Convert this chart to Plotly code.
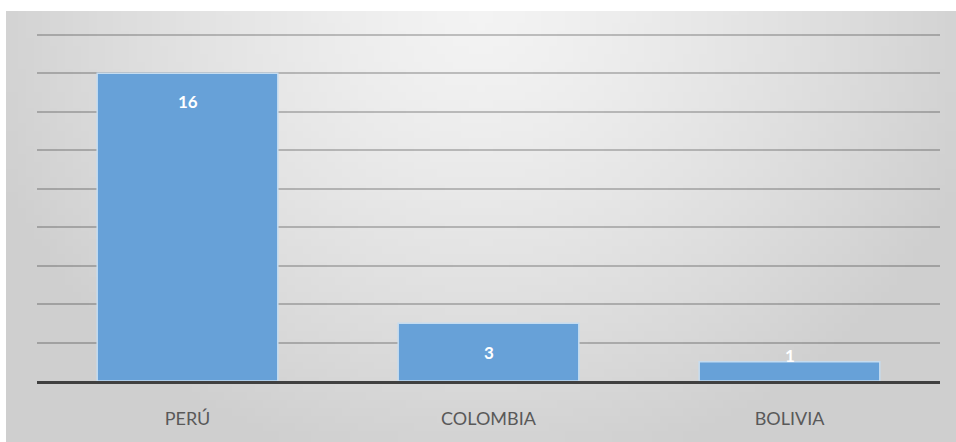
import base64, struct, zlib, math
import plotly.graph_objects as go

categories = ["PERÚ", "COLOMBIA", "BOLIVIA"]
values = [16, 3, 1]
label_shift = [-28, -29, 6]

W, H = 956, 442
ML, MR, MT, MB = 37, 16, 29, 61
PANEL_X0, PANEL_Y0 = 6, 11


def gradient_png(w=120, h=56):
    rows = b""
    for j in range(h):
        rows += b"\x00"
        yy = j / (h - 1)
        for i in range(w):
            xx = i / (w - 1)
            r = math.sqrt(((xx - 0.5) / 0.55) ** 2 + (yy / 1.1) ** 2)
            r = min(r, 1.0)
            v = int(round(243 - 36 * r ** 1.3))
            rows += bytes([v, v, v])

    def chunk(tag, data):
        c = struct.pack(">I", len(data)) + tag + data
        return c + struct.pack(">I", zlib.crc32(tag + data) & 0xFFFFFFFF)

    png = b"\x89PNG\r\n\x1a\n"
    png += chunk(b"IHDR", struct.pack(">IIBBBBB", w, h, 8, 2, 0, 0, 0))
    png += chunk(b"IDAT", zlib.compress(rows, 9))
    png += chunk(b"IEND", b"")
    return "data:image/png;base64," + base64.b64encode(png).decode()


pw = W - ML - MR
ph = H - MT - MB
img_x0 = (PANEL_X0 - ML) / pw
img_x1 = (W - ML) / pw
img_y1 = (H - MB - PANEL_Y0) / ph
img_y0 = (H - MB - H) / ph

fig = go.Figure()
fig.add_trace(go.Bar(
    x=categories, y=values,
    marker=dict(color="#67a1d8", line=dict(color="#c5dcf0", width=1.5)),
    hoverinfo="x+y",
))

for c, v, s in zip(categories, values, label_shift):
    fig.add_annotation(x=c, y=v, text=f"<b>{v}</b>", showarrow=False,
                       yshift=s, font=dict(family="Lato, Open Sans, sans-serif", size=17, color="white"))

fig.update_layout(
    width=W, height=H,
    margin=dict(l=ML, r=MR, t=MT, b=MB),
    paper_bgcolor="white",
    plot_bgcolor="rgba(0,0,0,0)",
    bargap=0.4,
    showlegend=False,
    images=[dict(source=gradient_png(), xref="paper", yref="paper",
                 x=img_x0, y=img_y1, sizex=img_x1 - img_x0, sizey=img_y1 - img_y0,
                 sizing="stretch", layer="below", xanchor="left", yanchor="top")],
    xaxis=dict(showline=True, linecolor="#404040", linewidth=3,
               tickfont=dict(family="Lato, Open Sans, sans-serif", size=18, color="#595959"),
               ticklabelstandoff=19, showgrid=False),
    yaxis=dict(range=[0, 18.3], dtick=2, showticklabels=False, showgrid=True,
               gridcolor="rgba(0,0,0,0.22)", gridwidth=1.5, zeroline=False),
)

fig.write_html("out.html", config={"displayModeBar": False},
               post_script="document.body.style.margin='0';")
